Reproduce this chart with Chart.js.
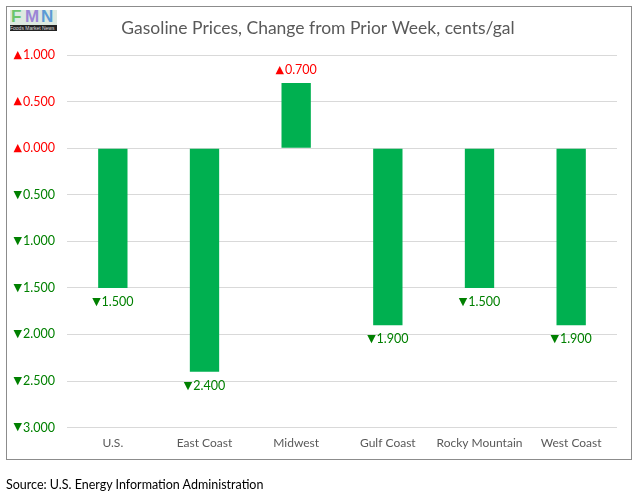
<!DOCTYPE html>
<html>
<head>
<meta charset="utf-8">
<script src="https://cdn.jsdelivr.net/npm/chart.js@4"></script>
<style>
  html, body { margin: 0; padding: 0; background: #fff; }
  #wrap { position: relative; width: 637px; height: 495px; font-family: Lato, "Open Sans", sans-serif; }
  #chart { position: absolute; left: 0; top: 0; }
  #frame { position: absolute; left: 6px; top: 6px; width: 624px; height: 452px; border: 1px solid #8c8c8c; pointer-events: none; }
  #source { position: absolute; left: 6px; top: 477px; font-size: 12.5px; color: #000; }
  #logo { position: absolute; left: 10px; top: 10px; width: 47px; height: 21px; background: #dde9e0; overflow: hidden; }
  #logo .ltr { position: absolute; top: -3px; font: bold 17px "Liberation Sans", sans-serif; }
  #logo .band { position: absolute; left: 0; bottom: 0; width: 47px; height: 6px; background: #222; color: #ddd; font: 5px "Liberation Sans", sans-serif; line-height: 6px; white-space: nowrap; }
</style>
</head>
<body>
<div id="wrap">
  <canvas id="chart" width="637" height="495"></canvas>
  <div id="frame"></div>
  <div id="logo">
    <span class="ltr" style="left:1px;color:#6cc56c">F</span>
    <span class="ltr" style="left:15px;color:#9b86d6">M</span>
    <span class="ltr" style="left:31px;color:#5b9bd5">N</span>
    <div class="band">Foods Market News</div>
  </div>
  <div id="source">Source: U.S. Energy Information Administration</div>
</div>
<script>
// regiões e variação semanal (cents/gal)
const regions = ['U.S.', 'East Coast', 'Midwest', 'Gulf Coast', 'Rocky Mountain', 'West Coast'];
const changes = [-1.5, -2.4, 0.7, -1.9, -1.5, -1.9];
const titleText = 'Gasoline Prices, Change from Prior Week, cents/gal';

const upColor = '#ff0000';
const downColor = '#008000';
const numFont = '12.5px Lato, "Open Sans", sans-serif';
const arrowFont = '11px "DejaVu Sans", sans-serif';

// desenha seta + número; align = 'right' ou 'center'
function drawArrowText(ctx, v, x, y, align) {
    const arrow = v >= 0 ? '\u25B2' : '\u25BC';
    const num = Math.abs(v).toFixed(3);
    ctx.font = arrowFont;
    const aw = ctx.measureText(arrow).width;
    ctx.font = numFont;
    const nw = ctx.measureText(num).width;
    const total = aw + 1 + nw;
    const left = align === 'right' ? x - total : x - total / 2;
    ctx.fillStyle = v >= 0 ? upColor : downColor;
    ctx.textAlign = 'left';
    ctx.textBaseline = 'middle';
    ctx.font = arrowFont;
    ctx.fillText(arrow, left, y);
    ctx.font = numFont;
    ctx.fillText(num, left + aw + 1, y);
}

const customText = {
    id: 'customText',
    afterDraw(chart) {
        const ctx = chart.ctx;
        ctx.save();
        // título
        ctx.font = '17.5px Lato, "Open Sans", sans-serif';
        ctx.fillStyle = '#595959';
        ctx.textAlign = 'center';
        ctx.textBaseline = 'middle';
        ctx.fillText(titleText, 318, 28);
        // rótulos do eixo y
        const y = chart.scales.y;
        y.ticks.forEach(t => {
            drawArrowText(ctx, t.value, 55, y.getPixelForValue(t.value), 'right');
        });
        // rótulos das barras
        const meta = chart.getDatasetMeta(0);
        meta.data.forEach((bar, i) => {
            const v = changes[i];
            const yy = v >= 0 ? bar.y - 13 : bar.y + 14;
            drawArrowText(ctx, v, bar.x, yy, 'center');
        });
        ctx.restore();
    }
};

new Chart(document.getElementById('chart'), {
    type: 'bar',
    data: {
        labels: regions,
        datasets: [{
            data: changes,
            backgroundColor: '#00b050',
            barPercentage: 0.32,
            categoryPercentage: 1.0
        }]
    },
    options: {
        responsive: false,
        animation: false,
        layout: { padding: { top: 55, right: 20, bottom: 45, left: 0 } },
        plugins: {
            legend: { display: false },
            tooltip: { enabled: false },
            title: { display: false }
        },
        scales: {
            x: {
                grid: { display: false },
                border: { display: false },
                ticks: {
                    color: '#595959',
                    font: { family: 'Lato, "Open Sans", sans-serif', size: 12 },
                    padding: 0,
                    maxRotation: 0,
                    autoSkip: false
                }
            },
            y: {
                min: -3,
                max: 1,
                afterFit(axis) { axis.width = 67; },
                grid: { color: '#d9d9d9', drawTicks: false },
                border: { display: false },
                ticks: { stepSize: 0.5, display: false }
            }
        }
    },
    plugins: [customText]
});
</script>
</body>
</html>
